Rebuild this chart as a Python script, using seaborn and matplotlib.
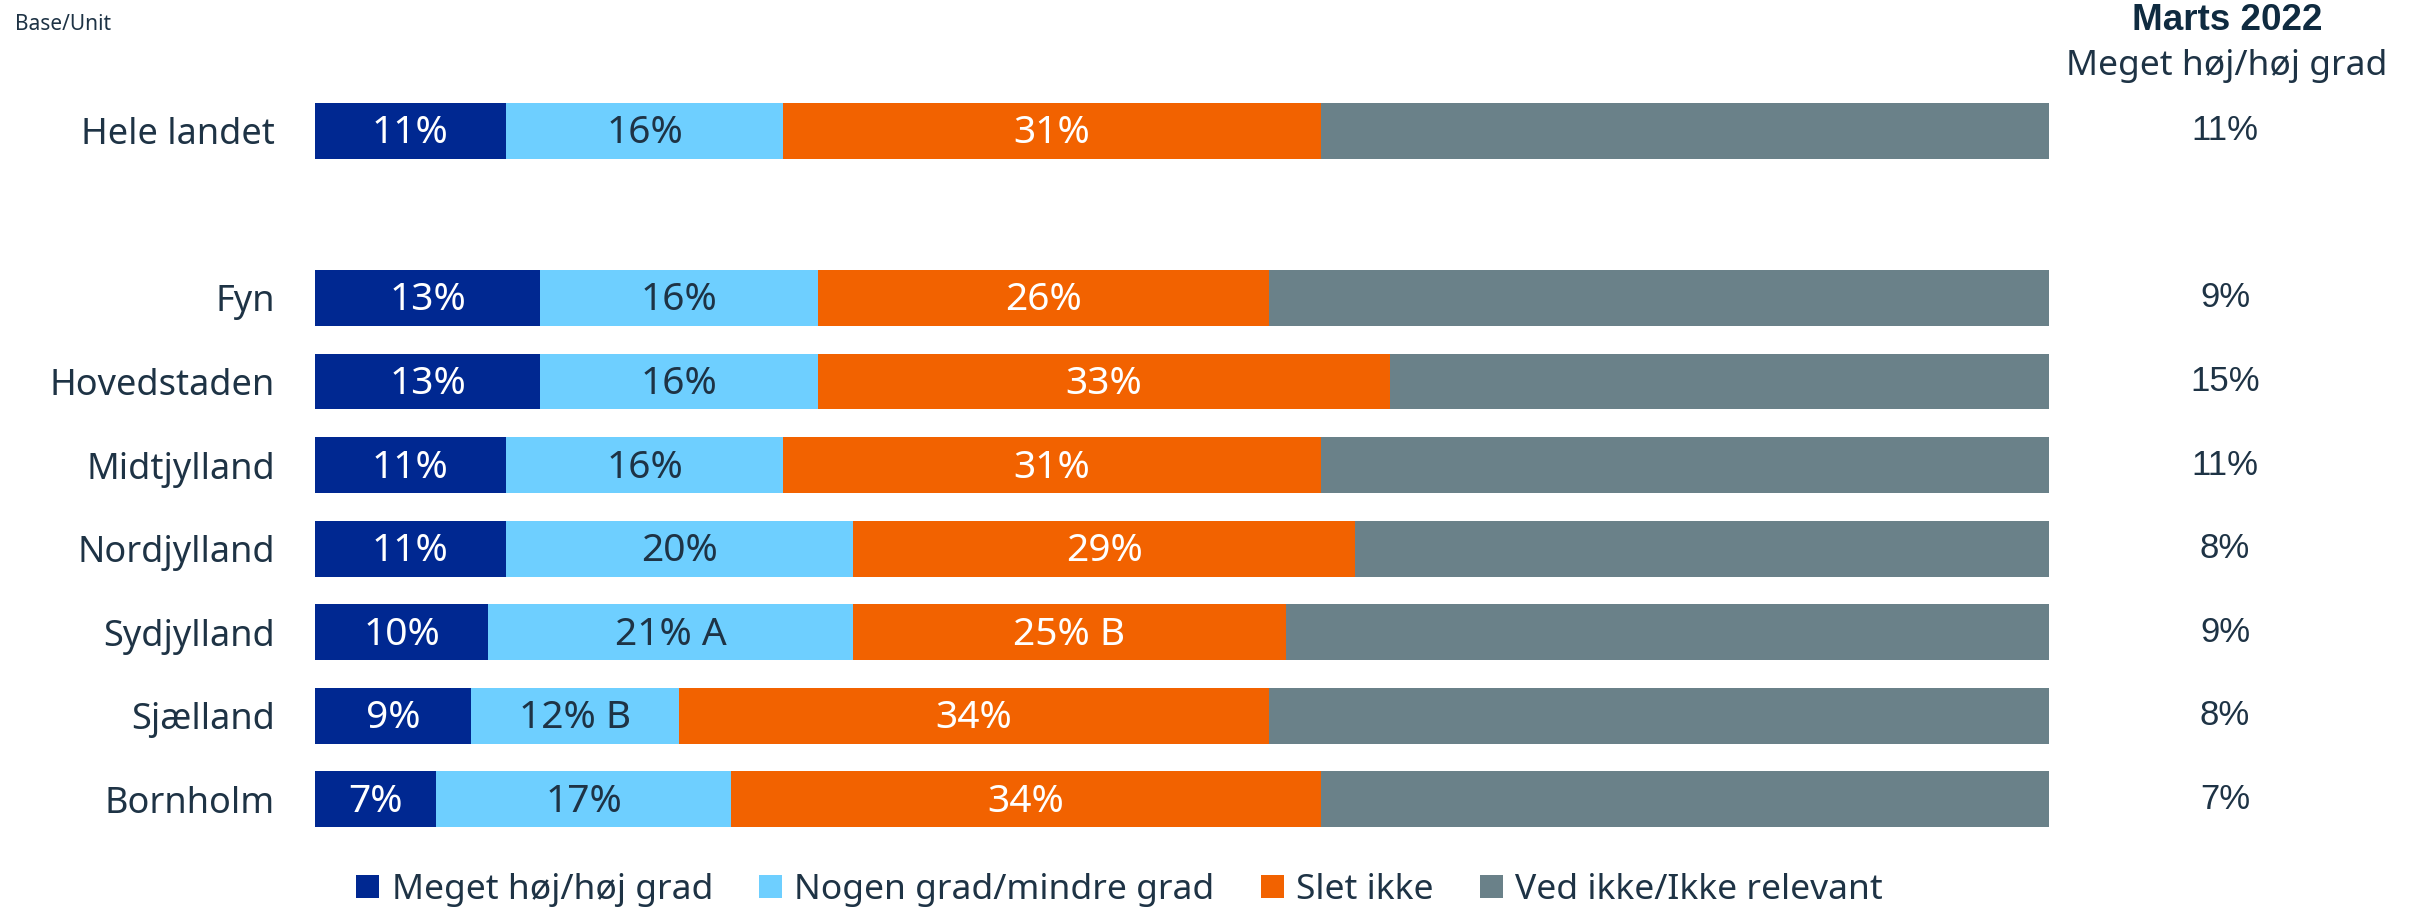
import numpy as np
import pandas as pd
import matplotlib
matplotlib.use("Agg")
import matplotlib.pyplot as plt
from matplotlib.patches import Patch
import seaborn as sns

# Data
regions = ['Hele landet', 'Fyn', 'Hovedstaden', 'Midtjylland', 'Nordjylland',
           'Sydjylland', 'Sjælland', 'Bornholm']
high = [11, 13, 13, 11, 11, 10, 9, 7]          # Meget høj/høj grad
some = [16, 16, 16, 16, 20, 21, 12, 17]        # Nogen grad/mindre grad
not_at_all = [31, 26, 33, 31, 29, 25, 34, 34]  # Slet ikke
dont_know = [42, 45, 38, 42, 40, 44, 45, 42]   # Ved ikke/Ikke relevant
some_sig = ['', '', '', '', '', ' A', ' B', '']
not_sig = ['', '', '', '', '', ' B', '', '']
marts_2022 = ['11%', '9%', '15%', '11%', '8%', '9%', '8%', '7%']

series_names = ['Meget høj/høj grad', 'Nogen grad/mindre grad', 'Slet ikke', 'Ved ikke/Ikke relevant']
colors = ['#002891', '#6ECFFF', '#F26200', '#6A8189']
text_dark = '#1E3345'

# order with an empty slot between the total and the regions
gap = ' '
order = [regions[0], gap] + regions[1:]

df = pd.DataFrame({'region': regions, 'high': high, 'some': some,
                   'not': not_at_all, 'dk': dont_know})
df['c1'] = df['high']
df['c2'] = df['c1'] + df['some']
df['c3'] = df['c2'] + df['not']
df['c4'] = df['c3'] + df['dk']

sns.set_theme(style='white')
plt.rcParams['font.family'] = ['Noto Sans', 'DejaVu Sans']

fig = plt.figure(figsize=(24.18, 9.09), dpi=100)
ax = fig.add_axes([0.1303, 0.0748, 0.8474 - 0.1303, 0.902 - 0.0748])

# stacked bars drawn as overlapping cumulative bars
for col, color in zip(['c4', 'c3', 'c2', 'c1'], colors[::-1]):
    sns.barplot(data=df, x=col, y='region', order=order, orient='h',
                color=color, width=0.67, saturation=1, linewidth=0, ax=ax)

ax.set_xlim(0, 100)
ax.set_ylim(8.5, -0.5)
ax.set_xlabel('')
ax.set_ylabel('')
ax.set_xticks([])
sns.despine(ax=ax, left=True, bottom=True)
ax.tick_params(axis='y', length=0, pad=29, labelsize=26, labelcolor=text_dark)

# segment labels
ypos = [order.index(r) for r in regions]
for i, y in enumerate(ypos):
    starts = [0, df['c1'][i], df['c2'][i]]
    vals = [high[i], some[i], not_at_all[i]]
    sufs = ['', some_sig[i], not_sig[i]]
    tcols = ['white', text_dark, 'white']
    for s, v, suf, tc in zip(starts, vals, sufs, tcols):
        ax.text(s + v / 2, y + 0.03, f'{v}%{suf}', ha='center', va='center',
                fontsize=28, color=tc)
    ax.text(1.1015, y, marts_2022[i], transform=ax.get_yaxis_transform(),
            ha='center', va='center', fontsize=25, color=text_dark,
            family='Liberation Sans')

fig.text(0.921, 1 - 21 / 909, 'Marts 2022', ha='center', va='center',
         fontsize=26.5, fontweight='bold', color='#0F2B40', family='Liberation Sans')
fig.text(0.921, 1 - 66 / 909, 'Meget høj/høj grad', ha='center', va='center',
         fontsize=25.5, color=text_dark)
fig.text(0.0062, 1 - 24 / 909, 'Base/Unit', ha='left', va='center',
         fontsize=15, color=text_dark)

handles = [Patch(facecolor=c, edgecolor='none', label=n) for c, n in zip(colors, series_names)]
fig.legend(handles=handles, loc='center', bbox_to_anchor=(0.463, 1 - 890 / 909),
           ncol=4, frameon=False, fontsize=25.5, handlelength=0.65, handleheight=0.65,
           handletextpad=0.35, columnspacing=1.3, labelcolor=text_dark)

fig.savefig('out.png', dpi=100)
